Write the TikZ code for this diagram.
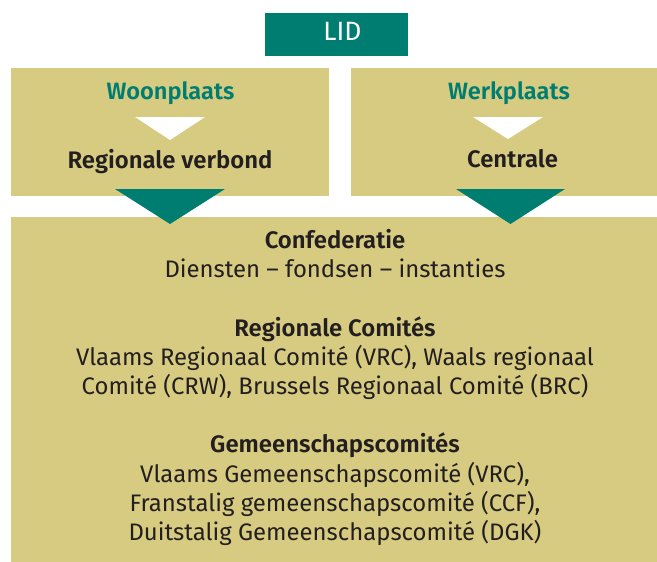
\documentclass[tikz,border=0pt]{standalone}
\usepackage{fontspec}
\setmainfont{Fira Sans}[BoldFont={Fira Sans SemiBold}]
\definecolor{khaki}{RGB}{214,203,128}
\definecolor{teal}{RGB}{0,125,113}
\definecolor{ink}{RGB}{35,31,32}
\begin{document}
\begin{tikzpicture}[x=1pt,y=-1pt,
  panel/.style={fill=khaki,draw=none,anchor=north west,inner sep=0pt,outer sep=0pt},
  lidbox/.style={fill=teal,draw=none,anchor=north west,inner sep=0pt,text=white},
  head/.style={anchor=base,inner sep=0pt,text=teal,font=\fontsize{23.6}{28}\selectfont\bfseries},
  unit/.style={anchor=base,inner sep=0pt,text=ink,font=\fontsize{23.9}{28}\selectfont\bfseries},
  title/.style={anchor=base,inner sep=0pt,text=ink,font=\fontsize{23.9}{29}\selectfont\bfseries},
  body/.style={anchor=base,inner sep=0pt,text=ink,font=\fontsize{23.9}{29}\selectfont},
  whitetri/.style={fill=white,draw=none},
  tealtri/.style={fill=teal,draw=none}]
\useasboundingbox (0,0) rectangle (657,562);
% panels
\node[panel,minimum width=318pt,minimum height=128pt] (left) at (11,68) {};
\node[panel,minimum width=306pt,minimum height=128pt] (right) at (351,68) {};
\node[panel,minimum width=646pt,minimum height=345pt] (conf) at (11,217) {};
\node[lidbox,minimum width=143pt,minimum height=43pt] (lid) at (265,13) {};
\node[anchor=base,inner sep=0pt,text=white,font=\fontsize{26.5}{30}\selectfont] (lidt) at (342.5,40.7) {LID};
% top texts
\node[head] (woon) at (170.5,99.3) {Woonplaats};
\node[unit] (regv) at (170,168.3) {Regionale verbond};
\node[head] (werk) at (509,99.3) {Werkplaats};
\node[unit] (cent) at (512.5,167.5) {Centrale};
% small white triangles
\fill[whitetri] (135,117) -- (205,117) -- (170,140) -- cycle;
\fill[whitetri] (473,117) -- (543,117) -- (508,139) -- cycle;
% teal arrows
\fill[tealtri] (115,189) -- (225,189) -- (170,224) -- cycle;
\fill[tealtri] (456,189) -- (565,189) -- (510.5,224) -- cycle;
% bottom texts
\node[title] (t1) at (335,248.5) {Confederatie};
\node[body] (b1) at (335,277.7) {Diensten – fondsen – instanties};
\node[title] (t2) at (335,336.1) {Regionale Comités};
\node[body] (b2) at (335,365.3) {Vlaams Regionaal Comité (VRC), Waals regionaal};
\node[body] (b3) at (335,394.5) {Comité (CRW), Brussels Regionaal Comité (BRC)};
\node[title] (t3) at (335,452.9) {Gemeenschapscomités};
\node[body] (b4) at (335,482.1) {Vlaams Gemeenschapscomité (VRC),};
\node[body] (b5) at (335,511.3) {Franstalig gemeenschapscomité (CCF),};
\node[body] (b6) at (335,540.5) {Duitstalig Gemeenschapscomité (DGK)};
\end{tikzpicture}
\end{document}
